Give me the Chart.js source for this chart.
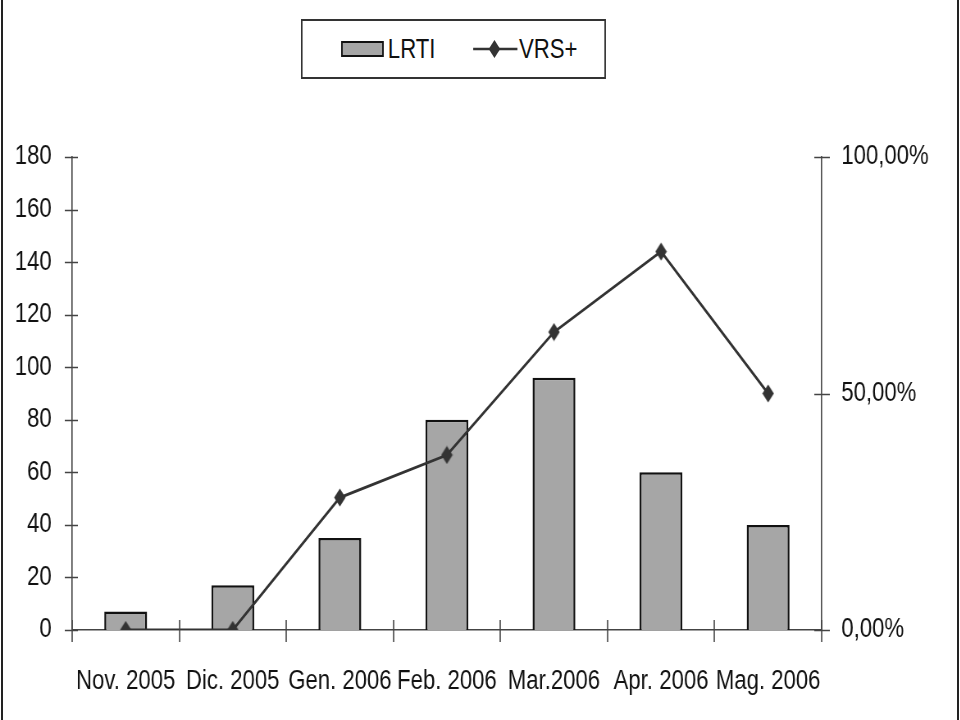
<!DOCTYPE html>
<html>
<head>
<meta charset="utf-8">
<script src="https://cdn.jsdelivr.net/npm/chart.js@4/dist/chart.umd.min.js"></script>
<style>
  html, body { margin: 0; padding: 0; background: #fff; }
  #wrap { position: relative; width: 960px; height: 720px; overflow: hidden; }
  #inner { position: absolute; left: 0; top: 0; width: 1171px; height: 720px;
           transform: scaleX(0.82); transform-origin: 0 0; }
  #frame { position: absolute; left: 1px; top: 0; width: 958px; height: 720px;
           border-left: 2px solid #222; border-right: 2px solid #222; box-sizing: border-box; pointer-events: none; }
  canvas { position: absolute; left: 0; top: 0; }
  #legend { position: absolute; left: 367px; top: 19px; width: 372px; height: 60px;
            border: 2px solid #333; box-sizing: border-box; background: #fff;
            font-family: "Liberation Sans", Arial, sans-serif;
            font-size: 27px; color: #111; }
  .item { position: absolute; top: 0; height: 56px; display: flex; align-items: center; }
  .sw-bar { width: 48px; height: 12px; background: #a6a6a6; border: 2px solid #111; margin-right: 5px; }
</style>
</head>
<body>
<div id="wrap">
  <div id="inner">
    <canvas id="c" width="1171" height="720"></canvas>
    <div id="legend">
      <div class="item" style="left:47px;"><span class="sw-bar"></span><span>LRTI</span></div>
      <div class="item" style="left:207px;">
        <svg width="56" height="20" style="margin-right:1px">
          <line x1="1" y1="10" x2="55" y2="10" stroke="#333" stroke-width="2.5"/>
          <polygon points="27,1 34,10 27,19 20,10" fill="#333"/>
        </svg><span>VRS+</span></div>
    </div>
  </div>
  <div id="frame"></div>
</div>
<script>
const categories = ["Nov. 2005", "Dic. 2005", "Gen. 2006", "Feb. 2006", "Mar.2006", "Apr. 2006", "Mag. 2006"];
const lrti = [7, 17, 35, 80, 96, 60, 40];
const vrsPlus = [0, 0, 0.28, 0.37, 0.63, 0.80, 0.50];
const leftTicks = [0, 20, 40, 60, 80, 100, 120, 140, 160, 180];
const rightTicks = [0, 0.5, 1];

const FONT = "'Liberation Sans', Arial, sans-serif";

// diamond marker
const diamond = document.createElement('canvas');
diamond.width = 15; diamond.height = 19;
(function () {
  const g = diamond.getContext('2d');
  g.fillStyle = '#333';
  g.beginPath();
  g.moveTo(7.5, 0.5); g.lineTo(14.5, 9.5); g.lineTo(7.5, 18.5); g.lineTo(0.5, 9.5);
  g.closePath(); g.fill();
})();

const crossTicks = {
  id: 'crossTicks',
  afterDraw(chart) {
    const ctx = chart.ctx;
    const x = chart.scales.x, y = chart.scales.y, y1 = chart.scales.y1;
    ctx.save();
    ctx.strokeStyle = '#444';
    ctx.lineWidth = 1.6;
    ctx.beginPath();
    leftTicks.forEach(v => {
      const py = Math.round(y.getPixelForValue(v)) + 0.5;
      ctx.moveTo(y.right - 9, py); ctx.lineTo(y.right + 7, py);
    });
    rightTicks.forEach(v => {
      const py = Math.round(y1.getPixelForValue(v)) + 0.5;
      ctx.moveTo(y1.left - 9, py); ctx.lineTo(y1.left + 10, py);
    });
    const w = x.getPixelForValue(1) - x.getPixelForValue(0);
    for (let i = 0; i <= categories.length; i++) {
      const px = Math.round(x.getPixelForValue(i) - w / 2);
      ctx.moveTo(px, x.top - 10); ctx.lineTo(px, x.top + 12);
    }
    ctx.stroke();
    ctx.restore();
  }
};

new Chart(document.getElementById('c'), {
  data: {
    labels: categories,
    datasets: [
      {
        type: 'line', label: 'VRS+', data: vrsPlus, yAxisID: 'y1', order: 0,
        borderColor: '#333', borderWidth: 2.8, tension: 0, fill: false,
        pointStyle: diamond, pointRadius: 7, pointHoverRadius: 7
      },
      {
        type: 'bar', label: 'LRTI', data: lrti, yAxisID: 'y', order: 1,
        backgroundColor: '#a6a6a6', borderColor: '#111', borderWidth: 2.5,
        borderSkipped: 'bottom', categoryPercentage: 1.0, barPercentage: 0.40
      }
    ]
  },
  options: {
    responsive: false,
    animation: false,
    events: [],
    layout: { padding: { top: 157, left: 0, right: 0, bottom: 0 } },
    plugins: { legend: { display: false }, tooltip: { enabled: false } },
    scales: {
      x: {
        offset: true,
        grid: { display: false, drawTicks: false, offset: true },
        border: { display: true, color: '#444', width: 1.6 },
        ticks: { color: '#111', font: { family: FONT, size: 27 }, padding: 35, maxRotation: 0, autoSkip: false },
        afterFit(s) { s.height = 90; }
      },
      y: {
        position: 'left', min: 0, max: 180,
        afterBuildTicks(s) { s.ticks = leftTicks.map(v => ({ value: v })); },
        grid: { display: false, drawTicks: false },
        border: { display: true, color: '#444', width: 1.6 },
        ticks: { color: '#111', font: { family: FONT, size: 27 }, padding: 25 },
        afterFit(s) { s.width = 88; }
      },
      y1: {
        position: 'right', min: 0, max: 1,
        afterBuildTicks(s) { s.ticks = rightTicks.map(v => ({ value: v })); },
        grid: { display: false, drawTicks: false },
        border: { display: true, color: '#444', width: 1.6 },
        ticks: {
          color: '#111', font: { family: FONT, size: 27 }, padding: 24,
          callback: v => (v * 100).toFixed(2).replace('.', ',') + '%'
        },
        afterFit(s) { s.width = 169; }
      }
    }
  },
  plugins: [crossTicks]
});
</script>
</body>
</html>
